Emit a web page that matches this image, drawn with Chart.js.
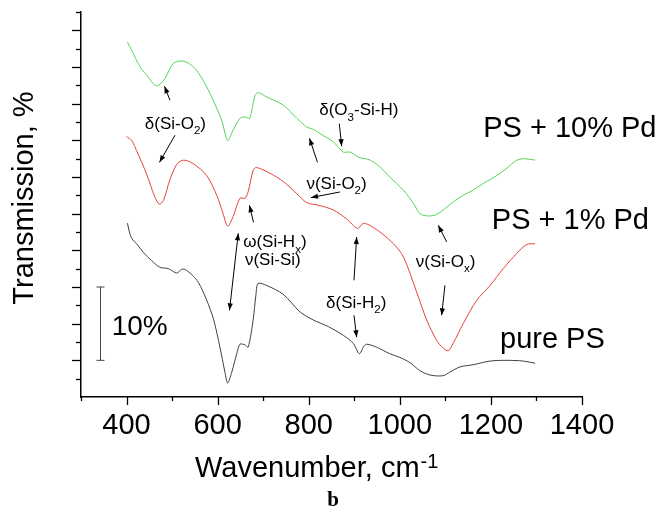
<!DOCTYPE html>
<html><head><meta charset="utf-8">
<script src="https://cdn.jsdelivr.net/npm/chart.js@4.4.1/dist/chart.umd.min.js"></script>
<style>html,body{margin:0;padding:0;background:#fff;}canvas{display:block;}</style>
</head><body>
<canvas id="c" width="660" height="511"></canvas>
<script>
// ---- data (wavenumber, cm^-1 ; transmission, %) ----
const wnGreen = [402,411,430,448,462,470,484,503,525,547,568,590,609,622,634,649,660,670,682,689,708,744,774,796,810,825,854,876,891,909,924,935,956,978,1008,1030,1044,1059,1077,1095,1117,1139,1158,1183,1213,1235,1257,1271,1297];
const tGreen = [48.4,47.3,45.0,43.6,42.5,42.5,43.4,45.5,45.8,45.0,43.2,40.5,37.7,35.0,36.4,38.0,38.2,38.0,41.1,41.5,40.9,39.8,38.0,36.8,36.5,35.9,34.8,33.4,33.4,32.7,32.5,32.3,31.4,30.0,28.2,26.4,25.0,24.7,24.8,25.5,26.6,27.5,28.1,29.1,30.2,31.2,32.3,32.5,32.3];
const wnRed = [400,411,422,444,462,472,481,495,510,525,547,576,598,612,622,634,649,660,667,678,685,715,744,774,796,825,854,883,907,921,952,986,1008,1037,1059,1081,1093,1106,1117,1139,1169,1198,1227,1257,1279,1297];
const tRed = [35.5,35.0,33.6,30.4,27.3,26.3,26.8,29.6,31.7,32.3,31.8,30.2,27.5,25.0,23.3,24.6,27.1,27.1,28.0,30.9,31.3,30.5,29.4,27.7,26.5,26.1,25.5,24.3,23.0,23.7,22.7,20.9,19.1,14.3,10.5,7.7,6.8,6.3,7.3,10.0,13.2,15.2,17.5,19.6,20.8,20.9];
const wnBlack = [402,408,414,422,437,455,473,492,510,521,528,543,558,576,591,605,616,622,631,642,649,660,667,678,684,689,708,744,781,810,843,876,898,911,921,927,949,978,1000,1022,1044,1066,1095,1110,1132,1161,1198,1235,1271,1297];
const tBlack = [23.7,22.1,21.4,20.9,19.7,18.6,17.7,17.5,16.9,17.4,17.4,16.7,15.6,13.2,10.6,6.8,3.4,1.9,3.4,5.9,7.2,7.1,6.8,10.5,13.9,15.5,15.2,14.0,11.6,10.5,9.6,8.4,7.3,5.9,6.9,7.2,6.8,5.9,5.4,4.7,3.6,3.0,2.9,3.4,4.1,4.4,4.9,5.0,4.9,4.6];

const seriesNames = ['PS + 10% Pd', 'PS + 1% Pd', 'pure PS'];
const xTickLabels = ['400', '600', '800', '1000', '1200', '1400'];
const xTitle = 'Wavenumber, cm';
const xTitleSup = '-1';
const yTitle = 'Transmission, %';
const panelLabel = 'b';
const scaleBarText = '10%';
const scaleBarRange = [5, 15];

// annotation placement (data coordinates)
const seriesLabelPos = [[1183, 35.4], [1202, 22.9], [1220, 6.64]];
const notes = [
  {parts: [['δ(Si-O'], ['2', 'sub'], [')']], x: 440, y: 36.5},
  {parts: [['δ(O'], ['3', 'sub'], ['-Si-H)']], x: 823, y: 38.4},
  {parts: [['ν(Si-O'], ['2', 'sub'], [')']], x: 795, y: 28.4},
  {parts: [['ω(Si-H'], ['x', 'sub'], [')']], x: 656, y: 20.4},
  {parts: [['ν(Si-Si)']], x: 660, y: 17.96},
  {parts: [['δ(Si-H'], ['2', 'sub'], [')']], x: 838, y: 12.1},
  {parts: [['ν(Si-O'], ['x', 'sub'], [')']], x: 1035, y: 17.7}
];
const arrows = [
  [495.4, 40.46, 483.3, 42.37, false],
  [506.4, 35.7, 472.3, 32.0, false],
  [867.1, 37.28, 872.4, 34.19, false],
  [819.2, 32.0, 801.6, 35.28, false],
  [868.6, 27.96, 805, 27.19, false],
  [678.7, 23.82, 669.9, 26.14, false],
  [645.3, 22.32, 626, 11.82, true],
  [899.4, 15.91, 905.3, 21.82, false],
  [899.4, 11.14, 905.3, 8.14, false],
  [1102.9, 21.14, 1084.4, 23.41, false],
  [1099.1, 15.23, 1091.8, 11.14, false]
];
const scaleBarPos = [341.7, 367.4, 8.41];

const FF = '"Liberation Sans", Arial, sans-serif';
const toXY = (xs, ys) => xs.map((x, i) => ({x: x, y: ys[i]}));

function drawRich(ctx, parts, x, y, size) {
  let cx = x;
  parts.forEach(p => {
    const sub = p[1] === 'sub';
    ctx.font = (sub ? size * 0.68 : size) + 'px ' + FF;
    ctx.fillText(p[0], cx, sub ? y + size * 0.3 : y);
    cx += ctx.measureText(p[0]).width;
  });
}
function arrowHead(ctx, x1, y1, x2, y2) {
  const a = Math.atan2(y2 - y1, x2 - x1), L = 7, W = 2.6;
  ctx.beginPath();
  ctx.moveTo(x2, y2);
  ctx.lineTo(x2 - L * Math.cos(a) + W * Math.sin(a), y2 - L * Math.sin(a) - W * Math.cos(a));
  ctx.lineTo(x2 - L * Math.cos(a) - W * Math.sin(a), y2 - L * Math.sin(a) + W * Math.cos(a));
  ctx.closePath();
  ctx.fill();
}

const decor = {
  id: 'decor',
  afterDraw(chart) {
    const ctx = chart.ctx, xs = chart.scales.x, ys = chart.scales.y;
    const ca = chart.chartArea;
    ctx.save();
    ctx.strokeStyle = '#000'; ctx.fillStyle = '#000'; ctx.lineWidth = 1.3;
    // ticks
    for (let v = 300; v <= 1400; v += 100) {
      const px = Math.round(xs.getPixelForValue(v)) + 0.5;
      const len = (v % 200 === 0) ? 8 : 4;
      ctx.beginPath(); ctx.moveTo(px, ca.bottom); ctx.lineTo(px, ca.bottom + len); ctx.stroke();
    }
    for (let v = 2.5; v <= 52.5001; v += 2.5) {
      const py = Math.round(ys.getPixelForValue(v)) + 0.5;
      const len = (Math.abs(v % 5) < 1e-6) ? 9 : 5;
      ctx.beginPath(); ctx.moveTo(ca.left - len, py); ctx.lineTo(ca.left, py); ctx.stroke();
    }
    // axis titles
    ctx.textBaseline = 'alphabetic';
    ctx.font = '29px ' + FF;
    ctx.textAlign = 'left';
    ctx.fillText(xTitle, 195, 477);
    const w = ctx.measureText(xTitle).width;
    ctx.font = '20px ' + FF;
    ctx.fillText(xTitleSup, 195 + w + 1, 468);
    ctx.save();
    ctx.translate(33, 198);
    ctx.rotate(-Math.PI / 2);
    ctx.font = '29px ' + FF;
    ctx.textAlign = 'center';
    ctx.fillText(yTitle, 0, 0);
    ctx.restore();
    ctx.font = 'bold 21px "Liberation Serif", "Times New Roman", serif';
    ctx.textAlign = 'center';
    ctx.fillText(panelLabel, 333, 506);
    // series labels
    ctx.textAlign = 'left';
    ctx.font = '29px ' + FF;
    seriesNames.forEach((n, i) => {
      ctx.fillText(n, xs.getPixelForValue(seriesLabelPos[i][0]), ys.getPixelForValue(seriesLabelPos[i][1]));
    });
    // scale bar
    const bx = Math.round(xs.getPixelForValue(scaleBarPos[0])) + 0.5;
    const b1 = ys.getPixelForValue(scaleBarRange[0]), b2 = ys.getPixelForValue(scaleBarRange[1]);
    ctx.lineWidth = 1;
    ctx.strokeStyle = '#444';
    ctx.beginPath();
    ctx.moveTo(bx, b1); ctx.lineTo(bx, b2);
    ctx.moveTo(bx - 4, b1); ctx.lineTo(bx + 4, b1);
    ctx.moveTo(bx - 4, b2); ctx.lineTo(bx + 4, b2);
    ctx.stroke();
    ctx.font = '28px ' + FF;
    ctx.fillText(scaleBarText, xs.getPixelForValue(scaleBarPos[1]), ys.getPixelForValue(scaleBarPos[2]));
    // notes
    notes.forEach(n => drawRich(ctx, n.parts, xs.getPixelForValue(n.x), ys.getPixelForValue(n.y), 17));
    ctx.strokeStyle = '#000'; ctx.lineWidth = 1;
    arrows.forEach(a => {
      const x1 = xs.getPixelForValue(a[0]), y1 = ys.getPixelForValue(a[1]);
      const x2 = xs.getPixelForValue(a[2]), y2 = ys.getPixelForValue(a[3]);
      ctx.beginPath(); ctx.moveTo(x1, y1); ctx.lineTo(x2, y2); ctx.stroke();
      arrowHead(ctx, x1, y1, x2, y2);
      if (a[4]) arrowHead(ctx, x2, y2, x1, y1);
    });
    ctx.restore();
  }
};

new Chart(document.getElementById('c'), {
  type: 'line',
  data: {
    datasets: [
      {label: seriesNames[0], data: toXY(wnGreen, tGreen), borderColor: '#55d455'},
      {label: seriesNames[1], data: toXY(wnRed, tRed), borderColor: '#e8403a'},
      {label: seriesNames[2], data: toXY(wnBlack, tBlack), borderColor: '#404040'}
    ]
  },
  options: {
    responsive: false,
    animation: false,
    devicePixelRatio: 1,
    layout: {padding: {left: 0, right: 78, top: 12, bottom: 0}},
    elements: {point: {radius: 0}, line: {borderWidth: 1, tension: 0.3}},
    plugins: {legend: {display: false}, tooltip: {enabled: false}},
    scales: {
      x: {
        type: 'linear', min: 300, max: 1400,
        afterFit: s => { s.height = 114; },
        grid: {display: true, drawOnChartArea: false, drawTicks: false},
        border: {display: true, color: '#000', width: 1.5},
        ticks: {
          stepSize: 100, padding: 12, color: '#000', maxRotation: 0, autoSkip: false,
          font: {size: 29, family: FF},
          callback: v => xTickLabels.includes(String(v)) ? String(v) : ''
        }
      },
      y: {
        type: 'linear', min: 0, max: 52.5,
        afterFit: s => { s.width = 81; },
        grid: {display: true, drawOnChartArea: false, drawTicks: false},
        border: {display: true, color: '#000', width: 1.5},
        ticks: {display: false, stepSize: 2.5}
      }
    }
  },
  plugins: [decor]
});
</script>
</body></html>
